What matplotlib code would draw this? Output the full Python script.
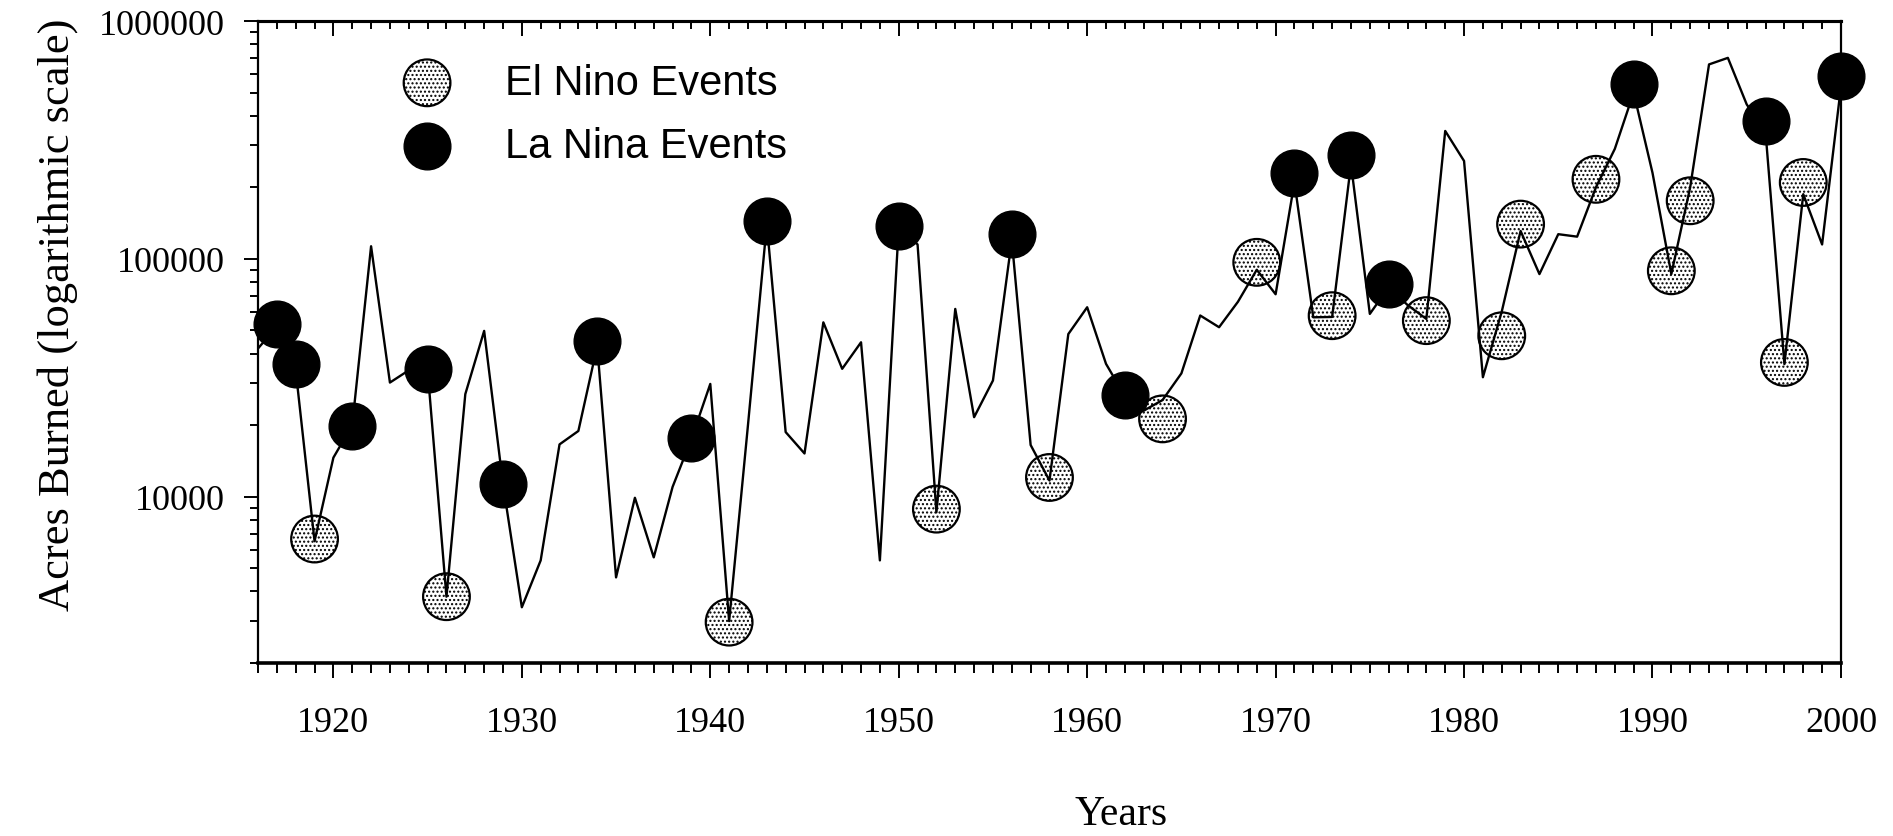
import matplotlib
matplotlib.use("Agg")
import matplotlib.pyplot as plt
from matplotlib.ticker import FixedLocator, FixedFormatter, LogLocator, NullFormatter

# Superficie quemada anual (acres), 1916-2000
years = list(range(1916, 2001))
acres_burned = [
    42000, 52000, 34000, 6500, 14600, 20000, 113000, 30200, 34000, 34000,   # 1916-1925
    3800, 27000, 49800, 11300, 3430, 5400, 16600, 18900, 43000, 4580,       # 1926-1935
    9900, 5560, 11000, 17500, 29800, 3000, 20000, 140000, 18700, 15200,     # 1936-1945
    54100, 34500, 44600, 5400, 136000, 115000, 8600, 61600, 21600, 30800,   # 1946-1955
    120000, 16500, 11700, 48300, 62600, 36200, 26500, 23000, 25500, 33000,  # 1956-1965
    57800, 51600, 66000, 90000, 71000, 210000, 56800, 57000, 250000, 58700, # 1966-1975
    76000, 64000, 55900, 345000, 258000, 31800, 60000, 131000, 86300, 127000,  # 1976-1985
    124000, 200000, 290000, 500000, 230000, 86300, 200000, 657000, 700000, 446000,  # 1986-1995
    340000, 36100, 187000, 115000, 530000,                                 # 1996-2000
]

# Años con evento El Niño y valor marcado
el_nino_years = [1919, 1926, 1941, 1952, 1958, 1964, 1969, 1973, 1978, 1982,
                 1983, 1987, 1991, 1992, 1997, 1998]
el_nino_acres = [6640, 3800, 2970, 8870, 12050, 21250, 96700, 57700, 55000, 47500,
                 140000, 216000, 89100, 175500, 36700, 209500]

# Años con evento La Niña y valor marcado
la_nina_years = [1917, 1918, 1921, 1925, 1929, 1934, 1939, 1943, 1950, 1956,
                 1962, 1971, 1974, 1976, 1989, 1996, 2000]
la_nina_acres = [53000, 36000, 19900, 34400, 11300, 45200, 17700, 143700, 137800, 127000,
                 26650, 229000, 272700, 78400, 541600, 380000, 587000]

x_major_ticks = list(range(1920, 2001, 10))
x_minor_ticks = list(range(1916, 2001))
y_major_ticks = [10000, 100000, 1000000]
y_tick_labels = ["10000", "100000", "1000000"]

plt.rcParams["font.family"] = ["Liberation Serif", "DejaVu Serif"]

fig = plt.figure(figsize=(18.93, 8.37), dpi=100)
ax = fig.add_axes([0.1363, 0.2067, 0.8362, 0.767])

ax.set_yscale("log")
ax.set_xlim(1916, 2000)
ax.set_ylim(2000, 1000000)

# Marcadores de eventos ENSO bajo la serie
ax.scatter(el_nino_years, el_nino_acres, s=1130, facecolor="white", edgecolor="black",
           linewidth=1.6, hatch="....", zorder=2, clip_on=False, label="El Nino Events")
ax.scatter(la_nina_years, la_nina_acres, s=1130, color="black", zorder=2,
           clip_on=False, label="La Nina Events")
# Serie anual
ax.plot(years, acres_burned, color="black", linewidth=1.7, zorder=3)

# Eje X: ticks hacia fuera abajo, hacia dentro arriba
ax.xaxis.set_major_locator(FixedLocator(x_major_ticks))
ax.xaxis.set_minor_locator(FixedLocator(x_minor_ticks))
ax.tick_params(axis="x", which="major", direction="out", length=11, width=1.4,
               labelsize=26, pad=20)
ax.tick_params(axis="x", which="minor", direction="out", length=7, width=1.4)

top = ax.secondary_xaxis("top")
top.xaxis.set_major_locator(FixedLocator(x_major_ticks))
top.xaxis.set_minor_locator(FixedLocator(x_minor_ticks))
top.tick_params(axis="x", which="major", direction="in", length=11, width=1.4, labeltop=False)
top.tick_params(axis="x", which="minor", direction="in", length=6, width=1.4)
top.spines["top"].set_linewidth(2.2)

# Eje Y logarítmico
ax.yaxis.set_major_locator(FixedLocator(y_major_ticks))
ax.yaxis.set_major_formatter(FixedFormatter(y_tick_labels))
ax.yaxis.set_minor_locator(LogLocator(base=10, subs=range(2, 10)))
ax.yaxis.set_minor_formatter(NullFormatter())
ax.tick_params(axis="y", which="major", direction="out", length=10, width=1.4,
               labelsize=26, pad=14, right=False)
ax.tick_params(axis="y", which="minor", direction="out", length=6, width=1.4, right=False)

for side in ["left", "right"]:
    ax.spines[side].set_linewidth(1.6)
ax.spines["bottom"].set_linewidth(2.6)
ax.spines["top"].set_linewidth(2.2)

fig.text(0.0306, 0.624, "Acres Burned (logarithmic scale)", rotation=90,
         ha="center", va="center", fontsize=32)
fig.text(0.5922, 0.003, "Years", ha="center", va="bottom", fontsize=30)

ax.legend(loc="upper left", bbox_to_anchor=(0.091, 0.935), frameon=False,
          prop={"family": "Liberation Sans", "size": 30}, scatterpoints=1,
          handlelength=1.2, handletextpad=1.27, labelspacing=0.55,
          borderpad=0, borderaxespad=0)

fig.savefig("out.png", dpi=100)
